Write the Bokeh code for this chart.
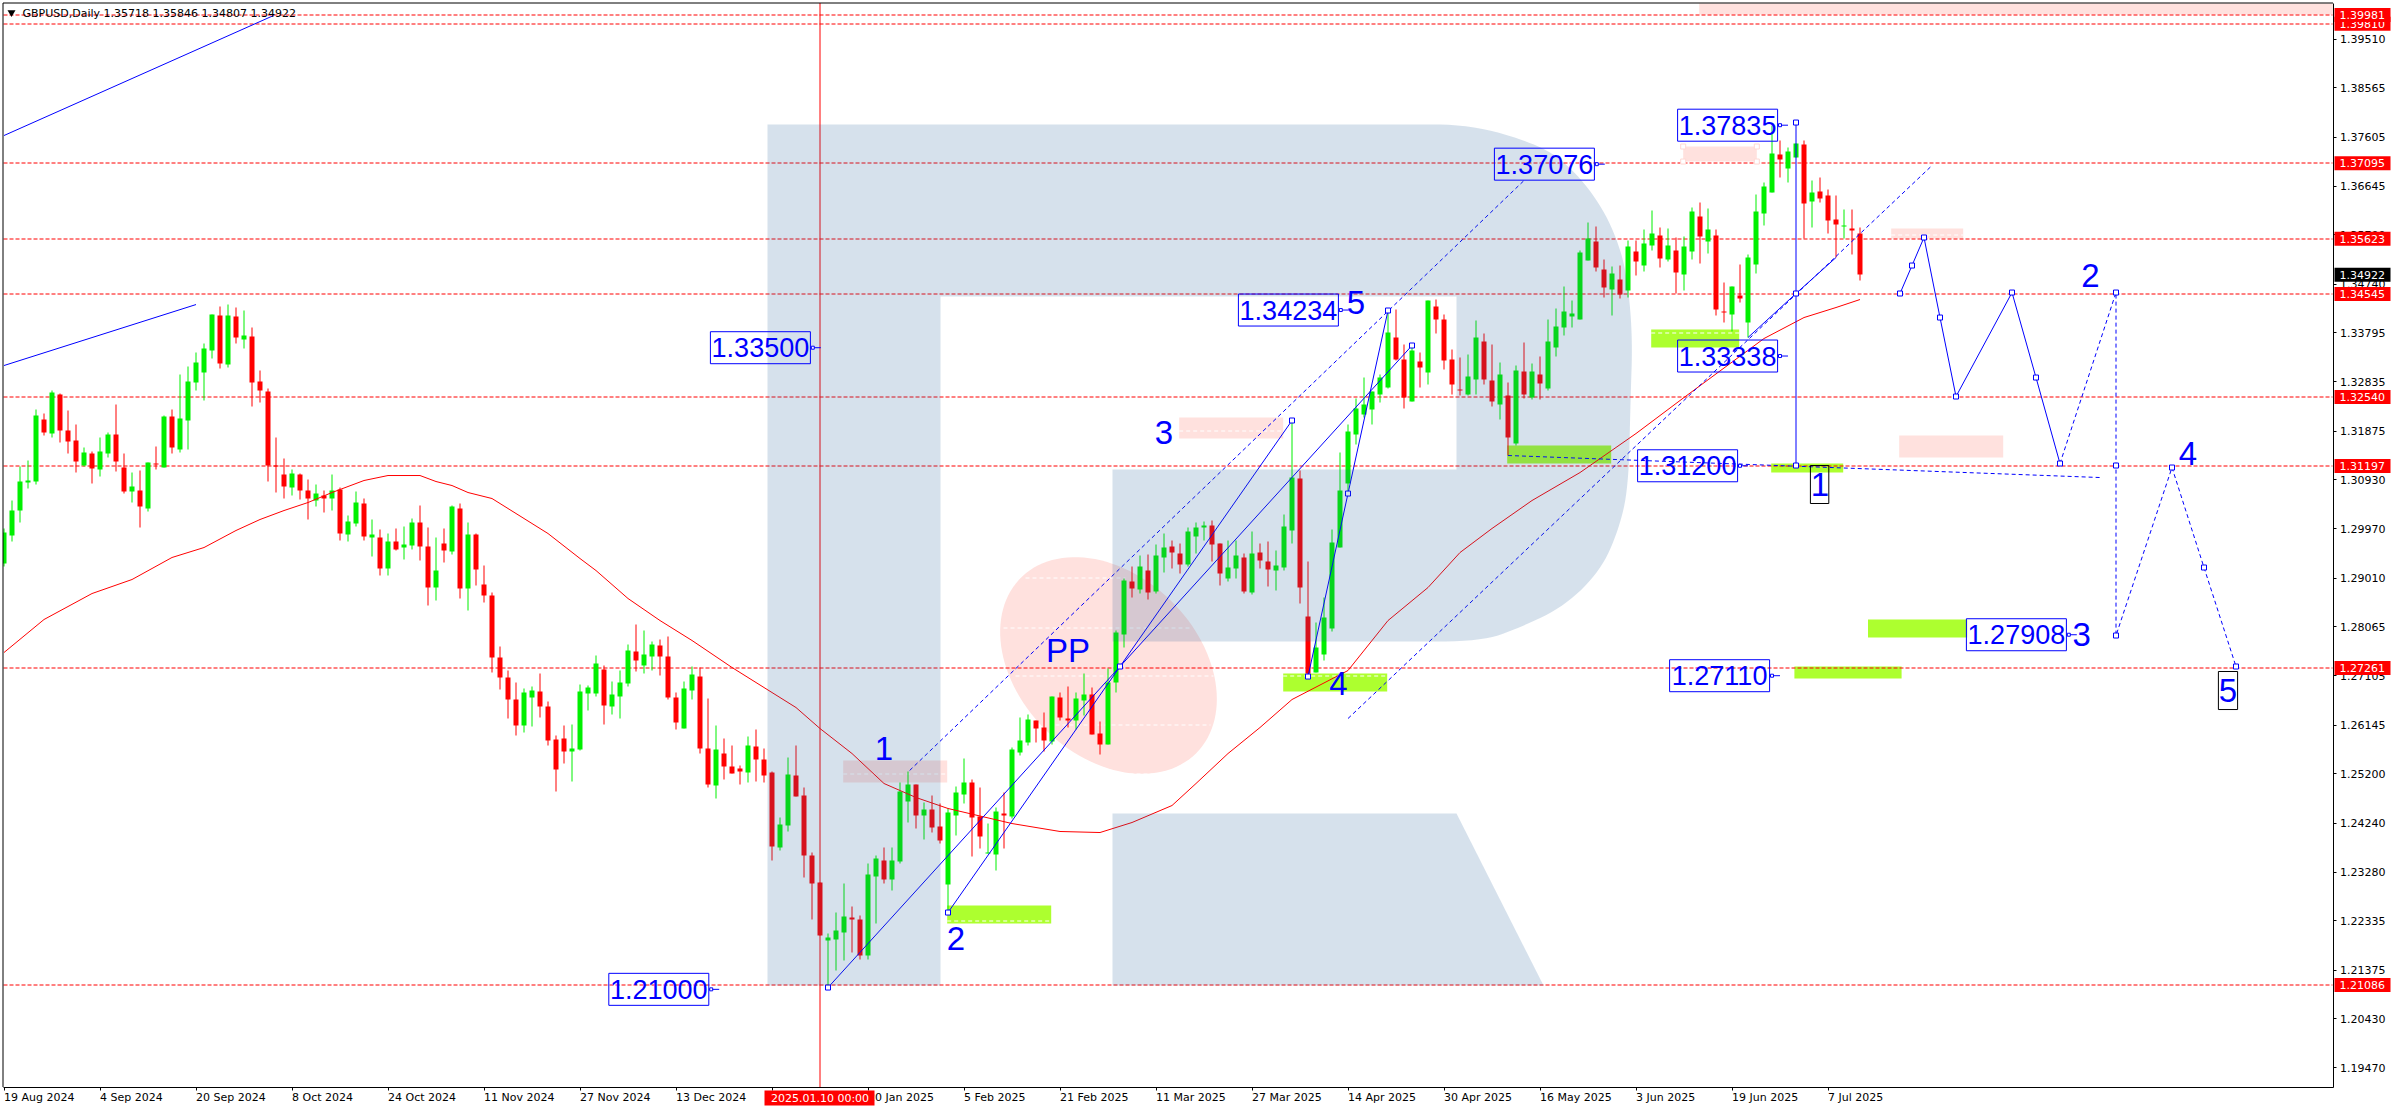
from bokeh.plotting import figure
from bokeh.models import Range1d, FixedTicker, PrintfTickFormatter
from bokeh.core.properties import value
from bokeh.embed import file_html
from bokeh.resources import INLINE
import numpy as np

direction = ("GGGGGRGRRR" "GRGGRRGRGR" "GRGGGGGRGR" "GRRRRRGRRG" "RGRGGRGRGR" "GGRRGRGRGR"
             "RRRRRGGRRR" "RGGGGRGGGR" "GGRRRGGRRG" "RRRGRRRGGR" "RRRGGGRRGG" "RGGGRGRRGG"
             "GRRGGRGGGR" "RGRRGGRRGG" "GRGRGGRRGG" "GRRGGRGRRG" "GGRRGGGGGG" "GGGGRRGRGR"
             "RRRGGRRGRG" "RGRGGGGGGR" "RGRGRGGRGR" "GGRGRRGRGG" "GGRGGRGRRR" "GRR")
body_top = [1.29906,1.30328,1.30893,1.30912,1.32179,1.32101,1.32627,1.32588,1.31886,1.31692,
1.31458,1.31438,1.31477,1.31809,1.31809,1.31166,1.30796,1.30718,1.31263,1.31244,
1.32159,1.32159,1.32120,1.32841,1.33211,1.33484,1.34146,1.34127,1.34127,1.34107,
1.33737,1.33718,1.32841,1.32646,1.31211,1.31029,1.31049,1.31029,1.30718,1.30659,
1.30620,1.30718,1.30737,1.30114,1.30484,1.30464,1.29860,1.29802,1.29724,1.29724,
1.29666,1.30094,1.30094,1.29627,1.29159,1.29685,1.30406,1.30367,1.29860,1.29860,
1.28887,1.28673,1.27465,1.27075,1.26647,1.26783,1.26822,1.26802,1.26510,1.25867,
1.25887,1.25692,1.26802,1.26880,1.27348,1.27231,1.26744,1.26978,1.27601,1.27582,
1.27523,1.27718,1.27699,1.27484,1.26685,1.26861,1.27134,1.27095,1.25692,1.25672,
1.25595,1.25341,1.25302,1.25750,1.25731,1.25478,1.25224,1.24211,1.25185,1.25166,
1.24776,1.23607,1.23081,1.22010,1.22146,1.22419,1.22399,1.22361,1.23237,1.23549,
1.23510,1.23510,1.24854,1.24991,1.24991,1.24504,1.24504,1.24172,1.24445,1.24835,
1.25030,1.25030,1.24367,1.23666,1.24465,1.24426,1.25672,1.25848,1.26257,1.26237,
1.26101,1.26705,1.26686,1.26276,1.26666,1.26744,1.26744,1.25984,1.26984,1.27951,
1.28964,1.28945,1.29237,1.29159,1.29451,1.29607,1.29627,1.29490,1.29919,1.29997,
1.30036,1.30036,1.29685,1.29218,1.29451,1.29412,1.29490,1.29510,1.29335,1.29257,
1.30016,1.30971,1.30952,1.28263,1.27659,1.28244,1.29705,1.30718,1.31867,1.32315,
1.32393,1.32646,1.32919,1.33796,1.33699,1.33270,1.33445,1.33231,1.34419,1.34302,
1.34049,1.33270,1.32685,1.32939,1.33699,1.33621,1.32861,1.32978,1.32569,1.33056,
1.33036,1.33036,1.32978,1.33621,1.33913,1.34205,1.34166,1.35355,1.35627,1.35569,
1.35024,1.34946,1.34829,1.35472,1.35374,1.35530,1.35725,1.35686,1.35491,1.35394,
1.35472,1.36153,1.36056,1.35803,1.35686,1.34205,1.34692,1.34517,1.35257,1.36153,
1.36641,1.37283,1.37264,1.37322,1.37478,1.37459,1.36524,1.36543,1.36465,1.35998,1.35881,1.35822,1.35718]
body_bottom = [1.29289,1.29841,1.30328,1.30880,1.30893,1.31854,1.31828,1.31886,1.31679,1.31283,
1.31198,1.31146,1.31127,1.31438,1.31283,1.30698,1.30698,1.30406,1.30367,1.31224,
1.31166,1.31555,1.31516,1.32081,1.32822,1.33016,1.33445,1.33192,1.33172,1.33698,
1.33659,1.32822,1.32666,1.31198,1.31192,1.30796,1.30776,1.30718,1.30562,1.30523,
1.30562,1.30562,1.29880,1.29860,1.30075,1.29821,1.29802,1.29198,1.29198,1.29568,
1.29607,1.29646,1.29627,1.28828,1.28828,1.29549,1.29529,1.28809,1.28809,1.29179,
1.28673,1.27465,1.27075,1.26647,1.26140,1.26140,1.26685,1.26510,1.25848,1.25283,
1.25633,1.25633,1.25672,1.26763,1.26763,1.26530,1.26510,1.26705,1.26958,1.27406,
1.27309,1.27484,1.27484,1.26685,1.26198,1.26082,1.26822,1.25692,1.24991,1.24971,
1.25341,1.25205,1.25244,1.25224,1.25478,1.25166,1.23783,1.23763,1.24192,1.24757,
1.23607,1.23062,1.22049,1.21951,1.21971,1.22107,1.22361,1.21659,1.21659,1.23198,
1.23140,1.23140,1.23491,1.24659,1.24387,1.24387,1.24153,1.23900,1.23042,1.24387,
1.24796,1.24348,1.23978,1.23640,1.23627,1.24387,1.24367,1.25614,1.25809,1.26082,
1.25848,1.25828,1.26296,1.26237,1.26237,1.26627,1.25965,1.25770,1.25770,1.26984,
1.27912,1.28809,1.28789,1.28731,1.28750,1.29412,1.29510,1.29276,1.29276,1.29822,
1.29997,1.29666,1.29101,1.29003,1.29198,1.28750,1.28731,1.29354,1.29179,1.29159,
1.29218,1.29938,1.28828,1.27146,1.27172,1.27523,1.28029,1.29607,1.30854,1.31809,
1.32198,1.32296,1.32588,1.32724,1.33270,1.32530,1.32452,1.33114,1.33017,1.34049,
1.33250,1.32783,1.32666,1.32588,1.32880,1.32880,1.32452,1.32393,1.31750,1.31633,
1.32588,1.32530,1.32803,1.32705,1.33504,1.33894,1.34108,1.34049,1.35199,1.35063,
1.34673,1.34634,1.34536,1.34614,1.35179,1.35101,1.35491,1.35238,1.35218,1.34965,
1.34926,1.35374,1.35666,1.35569,1.34244,1.34186,1.34147,1.34459,1.33991,1.35121,
1.36115,1.36524,1.37167,1.36991,1.37206,1.36309,1.36348,1.36407,1.35978,1.35900,1.35861,1.35783,1.34922]
highs = [1.29971,1.30523,1.31185,1.31302,1.32296,1.32218,1.32666,1.32607,1.32276,1.32003,
1.31555,1.31477,1.31750,1.31848,1.32393,1.31438,1.31068,1.31107,1.31263,1.31575,
1.32172,1.32296,1.32977,1.33133,1.33406,1.33581,1.34146,1.34302,1.34341,1.34283,
1.34224,1.33893,1.33055,1.32705,1.31750,1.31341,1.31127,1.31049,1.30932,1.30835,
1.30718,1.31029,1.30776,1.30231,1.30698,1.30562,1.30153,1.29958,1.29880,1.29977,
1.30016,1.30172,1.30425,1.29997,1.29802,1.29977,1.30425,1.30464,1.30094,1.29880,
1.29257,1.28731,1.27679,1.27211,1.26978,1.26861,1.26900,1.27153,1.26608,1.25945,
1.26140,1.26160,1.26939,1.26919,1.27504,1.27309,1.26997,1.27211,1.27718,1.28108,
1.27991,1.27777,1.27815,1.27874,1.26783,1.26997,1.27289,1.27270,1.26666,1.26140,
1.25887,1.25750,1.25361,1.25926,1.26062,1.25692,1.25244,1.24348,1.25517,1.25750,
1.24932,1.23666,1.23081,1.22088,1.22497,1.23062,1.22614,1.22438,1.23452,1.23607,
1.23763,1.23763,1.25030,1.25244,1.24991,1.24640,1.24776,1.24620,1.24523,1.24952,
1.25497,1.25088,1.24932,1.24231,1.24543,1.24835,1.25711,1.26296,1.26354,1.26237,
1.26393,1.26705,1.26783,1.26900,1.26783,1.27153,1.26880,1.26218,1.27250,1.27990,
1.28997,1.29237,1.29451,1.29471,1.29666,1.29880,1.29744,1.29685,1.29997,1.30094,
1.30114,1.30133,1.29685,1.29744,1.29744,1.29490,1.29919,1.29685,1.29724,1.29549,
1.30250,1.32082,1.31107,1.29335,1.28146,1.28633,1.29958,1.31458,1.32004,1.32510,
1.32919,1.32646,1.32978,1.34225,1.34244,1.33562,1.33523,1.33406,1.34419,1.34439,
1.34147,1.33465,1.33309,1.33367,1.34030,1.33776,1.33562,1.33211,1.32822,1.33153,
1.33601,1.33192,1.33329,1.34049,1.34264,1.34692,1.34420,1.35394,1.35939,1.35861,
1.35218,1.35082,1.35101,1.35589,1.35589,1.35803,1.36173,1.35842,1.35822,1.35647,
1.35666,1.36231,1.36329,1.36212,1.35803,1.34770,1.34692,1.35121,1.35316,1.36485,
1.36718,1.37835,1.37537,1.37400,1.37478,1.37537,1.36757,1.36816,1.36582,1.36465,1.36192,1.36192,1.35846]
lows = [1.29237,1.29730,1.30101,1.30763,1.30835,1.31789,1.31750,1.31653,1.31438,1.31068,
1.31192,1.30854,1.30990,1.31360,1.31088,1.30659,1.30484,1.29997,1.30308,1.31127,
1.31166,1.31438,1.31458,1.31516,1.32666,1.32471,1.33289,1.33094,1.33114,1.33581,
1.33484,1.32354,1.32432,1.30893,1.30679,1.30562,1.30620,1.30542,1.30153,1.30406,
1.30289,1.30328,1.29743,1.29724,1.30016,1.29743,1.29432,1.29062,1.29062,1.29549,
1.29373,1.29568,1.29354,1.28477,1.28575,1.29315,1.29471,1.28614,1.28380,1.28867,
1.28536,1.27173,1.26841,1.26276,1.25945,1.26004,1.26121,1.26296,1.25750,1.24854,
1.25400,1.25049,1.25653,1.26432,1.26705,1.26160,1.26354,1.26276,1.26900,1.27192,
1.27153,1.27211,1.27114,1.26647,1.26062,1.26082,1.26647,1.25595,1.24932,1.24718,
1.25088,1.25205,1.24991,1.25030,1.25049,1.25030,1.23510,1.23705,1.24075,1.24757,
1.23179,1.22361,1.22049,1.21075,1.21367,1.21562,1.21718,1.21581,1.21581,1.22283,
1.23062,1.22925,1.23452,1.24250,1.24133,1.23919,1.24055,1.23841,1.22536,1.23997,
1.24620,1.23588,1.23744,1.23640,1.23315,1.23744,1.24328,1.25556,1.25750,1.25809,
1.25633,1.25770,1.26237,1.26101,1.26062,1.26335,1.25965,1.25575,1.25770,1.26789,
1.27666,1.28633,1.28711,1.28594,1.28711,1.29120,1.29198,1.29101,1.29237,1.29490,
1.29744,1.29335,1.28867,1.28945,1.29003,1.28711,1.28692,1.29198,1.28848,1.28770,
1.29159,1.29685,1.28516,1.27114,1.27172,1.27406,1.27971,1.29607,1.30653,1.31614,
1.32140,1.32004,1.32432,1.32705,1.33250,1.32315,1.32452,1.32724,1.32783,1.33776,
1.33075,1.32588,1.32569,1.32569,1.32588,1.32783,1.32354,1.32101,1.31400,1.31594,
1.32510,1.32491,1.32491,1.32666,1.33329,1.33738,1.33894,1.34049,1.35199,1.34985,
1.34478,1.34127,1.34459,1.34478,1.34907,1.34985,1.35394,1.35063,1.35179,1.34556,
1.34614,1.35218,1.35140,1.35335,1.34127,1.33991,1.33816,1.34381,1.33692,1.34946,
1.35881,1.36524,1.36816,1.36718,1.37206,1.35627,1.35842,1.36329,1.35725,1.35257,1.35627,1.35316,1.34807]

ma_bars = [0,5,11,16,21,25,29,32,35,38,41,45,48,52,54,56,58,61,64,68,72,74,78,82,86,91,95,99,102,106,110,114,118,126,132,137,141,146,149,153,157,161,168,173,178,182,186,191,197,204,210,220,225,229,232]
ma_values = [1.27562,1.28205,1.28711,1.28984,1.29413,1.29607,1.29939,1.30153,1.30328,1.30484,1.30679,1.30913,1.31010,1.31010,1.30893,1.30815,1.30679,1.30562,1.30270,1.29880,1.29393,1.29159,1.28614,1.28185,1.27796,1.27270,1.26880,1.26490,1.26081,1.25594,1.25010,1.24737,1.24523,1.24230,1.24075,1.24055,1.24250,1.24581,1.25010,1.25594,1.26101,1.26646,1.27211,1.28185,1.28828,1.29510,1.29978,1.30523,1.31068,1.31828,1.32530,1.33679,1.34088,1.34283,1.34439]

level_prices = [1.39810,1.39981,1.37095,1.35623,1.34545,1.32540,1.31197,1.27261,1.21086]
level_labels = ["1.39810","1.39981","1.37095","1.35623","1.34545","1.32540","1.31197","1.27261","1.21086"]
price_ticks = [1.39510,1.38565,1.37605,1.36645,1.35700,1.34740,1.33795,1.32835,1.31875,1.30930,1.29970,1.29010,1.28065,1.27105,1.26145,1.25200,1.24240,1.23280,1.22335,1.21375,1.20430,1.19470]
date_bars = [0,12,24,36,48,60,72,84,96,108,120,132,144,156,168,180,192,204,216,228]
date_labels = ["19 Aug 2024","4 Sep 2024","20 Sep 2024","8 Oct 2024","24 Oct 2024","11 Nov 2024","27 Nov 2024","13 Dec 2024","31 Dec 2024","20 Jan 2025","5 Feb 2025","21 Feb 2025","11 Mar 2025","27 Mar 2025","14 Apr 2025","30 Apr 2025","16 May 2025","3 Jun 2025","19 Jun 2025","7 Jul 2025"]

# zones: left bar, right bar, top price, bottom price
pink_l = [104.9,146.9,209.9,235.9,236.9,211.9]
pink_r = [117.9,159.9,219.1,244.9,249.9,291.1]
pink_t = [1.25458,1.32140,1.37420,1.35822,1.31789,1.40206]
pink_b = [1.25029,1.31731,1.37127,1.35627,1.31361,1.39991]
green_l = [117.9,159.9,205.9,187.9,220.9,233.0,223.8]
green_r = [130.9,172.9,216.9,200.9,229.9,245.4,237.2]
green_t = [1.22633,1.27153,1.33854,1.31595,1.31244,1.28205,1.27289]
green_b = [1.22282,1.26802,1.33504,1.31244,1.31068,1.27854,1.27055]
dash_l = [104.9,146.9,235.9,117.9,159.9,205.9]
dash_r = [117.9,159.9,244.9,130.9,172.9,216.9]
dash_p = [1.25204,1.31887,1.35705,1.22331,1.27114,1.33796]
handle_b = [209.9,219.1,209.9,219.1]
handle_p = [1.37420,1.37420,1.37127,1.37127]

# drawn lines (bar, price)
trend_a_b = [0,33.7];        trend_a_p = [1.37634,1.39972]
trend_b_b = [0,24];          trend_b_p = [1.33153,1.34341]
fork1_b = [103,176];         fork1_p = [1.21035,1.33543]
fork2_b = [118,161];         fork2_p = [1.22496,1.32082]
fork3_b = [163,173];         fork3_p = [1.27094,1.34225]
chan_u_b = [113.2,190];      chan_u_p = [1.25263,1.36757]
chan_l_b = [168,241];        chan_l_p = [1.26276,1.37049]
trend_c_b = [218,224,229];   trend_c_p = [1.33699,1.34556,1.35257]
vert_b = [224,224];          vert_p = [1.37887,1.31205]
flat_b = [188,262];          flat_p = [1.31400,1.30971]
wave_b = [237,238.5,240,242,244,251,254,257]
wave_p = [1.34556,1.35101,1.35647,1.34088,1.32549,1.34575,1.32919,1.31244]
fut_b = [257,264,264,271,275,279]
fut_p = [1.31244,1.34575,1.27893,1.31166,1.29218,1.27289]
node_b = [103,118,139.5,161,176,163,168,173,224,224,224,237,238.5,240,242,244,251,254,257,264,264,264,271,275,279]
node_p = [1.21035,1.22496,1.27289,1.32082,1.33543,1.27094,1.30659,1.34225,1.37887,1.34556,1.31205,1.34556,1.35101,1.35647,1.34088,1.32549,1.34575,1.32919,1.31244,1.34575,1.31205,1.27893,1.31166,1.29218,1.27289]

box_prices = [1.37835,1.37076,1.34234,1.33338,1.33500,1.31200,1.27908,1.27110,1.21000]
box_texts = ["1.37835","1.37076","1.34234","1.33338","1.33500","1.31200","1.27908","1.27110","1.21000"]
box_right = [221.7,198.8,166.8,221.7,100.8,216.7,257.8,220.7,88.1]

wave_text = ["1","2","3","4","5","PP","1","2","3","4","5"]
wave_tb = [110,119,145,166.8,169,133,227,260.8,259.7,273,278]
wave_tp = [1.25691,1.21990,1.31848,1.26958,1.34380,1.27601,1.30835,1.34906,1.27912,1.31439,1.26821]
frame_l = [225.8,276.8]; frame_r = [228.1,279.2]; frame_t = [1.31205,1.27192]; frame_b = [1.30465,1.26451]

X0, X1 = -0.0625, 291.0625
Y0, Y1 = 1.19107, 1.40206
PX = (Y1 - Y0) / 1083.0
def bx(v): return (np.asarray(v, float) - 3.5) / 8.0
def py(v): return Y1 - (np.asarray(v, float) - 3.0) * PX
def edge(v): return Y1 - np.round((Y1 - np.asarray(v, float)) / PX) * PX
def mid(v): return Y1 - (np.floor((Y1 - np.asarray(v, float)) / PX) + 0.5) * PX

p = figure(width=2396, height=1110, output_backend="svg", toolbar_location=None, tools="",
           x_range=Range1d(float(bx(0)), float(bx(2396))), y_range=Range1d(float(py(1110)), float(py(0))),
           x_axis_location="below", y_axis_location="right",
           min_border_left=0, min_border_top=0, min_border_right=0, min_border_bottom=0,
           margin=(0, 0, 0, 0), background_fill_color="white", border_fill_color="white")
p.grid.visible = False
p.outline_line_color = None

FL, FR = float(bx(2.5)), float(bx(2332.5))
FT, FB = float(py(2.5)), float(py(1086.5))
AX_FONT = "DejaVu Sans"
for ax in (p.xaxis[0], p.yaxis[0]):
    ax.axis_line_color = "black"
    ax.major_tick_line_color = "black"
    ax.minor_tick_line_color = None
    ax.major_tick_in = 0
    ax.major_tick_out = 3
    ax.major_label_text_font = AX_FONT
    ax.major_label_text_font_size = "11px"
    ax.major_label_text_color = "black"
    ax.major_label_standoff = 4
p.yaxis[0].ticker = FixedTicker(ticks=price_ticks)
p.yaxis[0].formatter = PrintfTickFormatter(format="%.5f")
p.yaxis[0].fixed_location = FR
p.yaxis[0].bounds = (FB, FT)
p.xaxis[0].ticker = FixedTicker(ticks=date_bars)
p.xaxis[0].major_label_text_color = None
p.xaxis[0].fixed_location = FB
p.xaxis[0].bounds = (FL, FR)

# background zones and circle
PINK = "#ffe1de"; LIME = "#adff2f"
t = np.linspace(0, 2*np.pi, 120)
a, b, ang = 124.0, 90.0, np.pi/4
ex = 1108 + a*np.cos(t)*np.cos(ang) - b*np.sin(t)*np.sin(ang)
ey = 665 + a*np.cos(t)*np.sin(ang) + b*np.sin(t)*np.cos(ang)
p.patch(bx(ex), py(ey), fill_color=PINK, line_color=None)
p.quad(left=pink_l, right=pink_r, top=pink_t, bottom=pink_b, fill_color=PINK, line_color=None)
p.quad(left=green_l, right=green_r, top=green_t, bottom=green_b, fill_color=LIME, line_color=None)
p.segment(x0=dash_l, x1=dash_r, y0=mid(dash_p), y1=mid(dash_p), line_color="white", line_dash="4 3", line_width=1)
cy = np.array([577, 627, 675, 724, 773]) + 0.5; cl = [1025, 1003, 1015, 1055, 1115]; cr = [1125, 1190, 1213, 1210, 1170]
p.segment(x0=bx(cl), x1=bx(cr), y0=py(cy), y1=py(cy), line_color="white", line_dash="4 3", line_width=1)

# levels
lv = mid(level_prices)
p.segment(x0=[X0]*len(lv), x1=[X1]*len(lv), y0=lv, y1=lv, line_color="red", line_dash="4 2", line_width=1)
p.segment(x0=[102], x1=[102], y0=[FB], y1=[FT], line_color="red", line_width=1)

# candles
bars = list(range(len(highs)))
cols = ["#00f000" if d == "G" else "#ff0000" for d in direction]
tops = edge(body_top); bots = edge(body_bottom)
bots = np.where(tops - bots < PX * 0.5, tops - PX, bots)
p.segment(x0=bars, x1=bars, y0=edge(lows), y1=edge(highs), line_color=cols, line_width=1)
p.vbar(x=bars, width=0.625, top=tops, bottom=bots, fill_color=cols, line_color=None)

# moving average
p.line(ma_bars, ma_values, line_color="red", line_width=1)

# blue drawings
BLUE = "#0000ff"
for xs, ys in [(trend_a_b, trend_a_p), (trend_b_b, trend_b_p), (fork1_b, fork1_p), (fork2_b, fork2_p),
               (fork3_b, fork3_p), (trend_c_b, trend_c_p), (vert_b, vert_p), (wave_b, wave_p)]:
    p.line(xs, ys, line_color=BLUE, line_width=1)
for xs, ys in [(chan_u_b, chan_u_p), (chan_l_b, chan_l_p), (flat_b, flat_p), (fut_b, fut_p)]:
    p.line(xs, ys, line_color=BLUE, line_width=1, line_dash="4 3")
p.scatter(node_b, node_p, marker="square", size=5, line_color=BLUE, fill_color="white", line_width=1)
p.scatter(handle_b, handle_p, marker="square", size=5, line_color="#ffd8d4", fill_color="white", line_width=1)

# logo overlay on top of marks
def chaikin(x, y, n=3):
    pts = np.column_stack([x, y]).astype(float)
    for _ in range(n):
        q = 0.75*pts[:-1] + 0.25*pts[1:]
        r = 0.25*pts[:-1] + 0.75*pts[1:]
        mids = np.empty((2*len(q), 2)); mids[0::2] = q; mids[1::2] = r
        pts = np.vstack([pts[:1], mids, pts[-1:]])
    return pts[:, 0], pts[:, 1]
ax_, ay_ = chaikin([1400,1470,1535,1567,1600,1620,1628,1632,1630,1628,1618,1600,1565,1520,1480,1400],
                   [124,124,143,163,203,247,287,340,400,487,530,570,605,627,641,641])
lx = np.concatenate([[767], ax_, [1112,1112,1456,1456,940,940,767]])
ly = np.concatenate([[124], ay_, [641,469,469,296,296,985,985]])
p.patch(bx(lx), py(ly), fill_color="#275f9b", fill_alpha=0.19, line_color=None)
p.patch(bx([1112,1456,1543,1112]), py([813,813,985,985]), fill_color="#275f9b", fill_alpha=0.19, line_color=None)

# clip left edge, frame sides drawn from the axis bounds
p.quad(left=[bx(0)], right=[FL], top=[py(0)], bottom=[py(1110)], fill_color="white", line_color=None)
p.segment(x0=[FL, FL], x1=[FL, FR], y0=[FB, FT], y1=[FT, FT], line_color="black", line_width=1)

# value boxes
box_right = np.array(box_right); box_prices = np.array(box_prices)
HH = 16 * PX
p.quad(left=box_right-12.5, right=box_right, top=box_prices+HH, bottom=box_prices-HH,
       fill_color=None, line_color=BLUE, line_width=1)
p.segment(x0=box_right, x1=box_right+1.3, y0=box_prices, y1=box_prices, line_color=BLUE, line_width=1)
p.scatter(box_right+0.3, box_prices, marker="square", size=3, line_color=BLUE, fill_color="white", line_width=1)
p.text(box_right-6.25, box_prices, text=box_texts, text_font=value("Liberation Sans"), text_font_size="27px",
       text_color=BLUE, text_align="center", text_baseline="middle")
p.quad(left=frame_l, right=frame_r, top=frame_t, bottom=frame_b, fill_color=None, line_color="black", line_width=1)
p.text(wave_tb, wave_tp, text=wave_text, text_font=value("Liberation Sans"), text_font_size="33px",
       text_color=BLUE, text_align="center", text_baseline="middle")

# header
p.text([bx(22)], [py(13)], text=["GBPUSD,Daily  1.35718 1.35846 1.34807 1.34922"], text_font=value(AX_FONT),
       text_font_size="11px", text_color="black", text_align="left", text_baseline="middle")
p.scatter([bx(11)], [py(12)], marker="inverted_triangle", size=8, fill_color="black", line_color=None)

# date labels start at their tick
p.text(date_bars, [float(py(1097))]*len(date_bars), text=date_labels, text_font=value(AX_FONT), text_font_size="11px",
       text_color="black", text_align="left", text_baseline="middle")

# price and time tags
tag_prices = level_prices + [1.34922]
tag_labels = level_labels + ["1.34922"]
tag_cols = ["#ff0000"]*len(level_prices) + ["#000000"]
def tag(text, y, bg):
    p.quad(left=[bx(2334)], right=[bx(2390)], top=[y + 7*PX], bottom=[y - 7*PX], fill_color=bg, line_color=None, level="overlay")
    p.text([bx(2339)], [y], text=[text], text_font=value(AX_FONT), text_font_size="11px", text_color="white",
           text_align="left", text_baseline="middle", level="overlay")
for txt, pr, c in zip(tag_labels, tag_prices, tag_cols):
    tag(txt, pr, c)
p.quad(left=[bx(764)], right=[bx(874)], top=[py(1090)], bottom=[py(1105)], fill_color="#ff0000", line_color=None, level="overlay")
p.text([102], [py(1097.5)], text=["2025.01.10 00:00"], text_font=value(AX_FONT), text_font_size="11px", text_color="white",
       text_align="center", text_baseline="middle", level="overlay")

open("out.html", "w").write(file_html(p, INLINE))
